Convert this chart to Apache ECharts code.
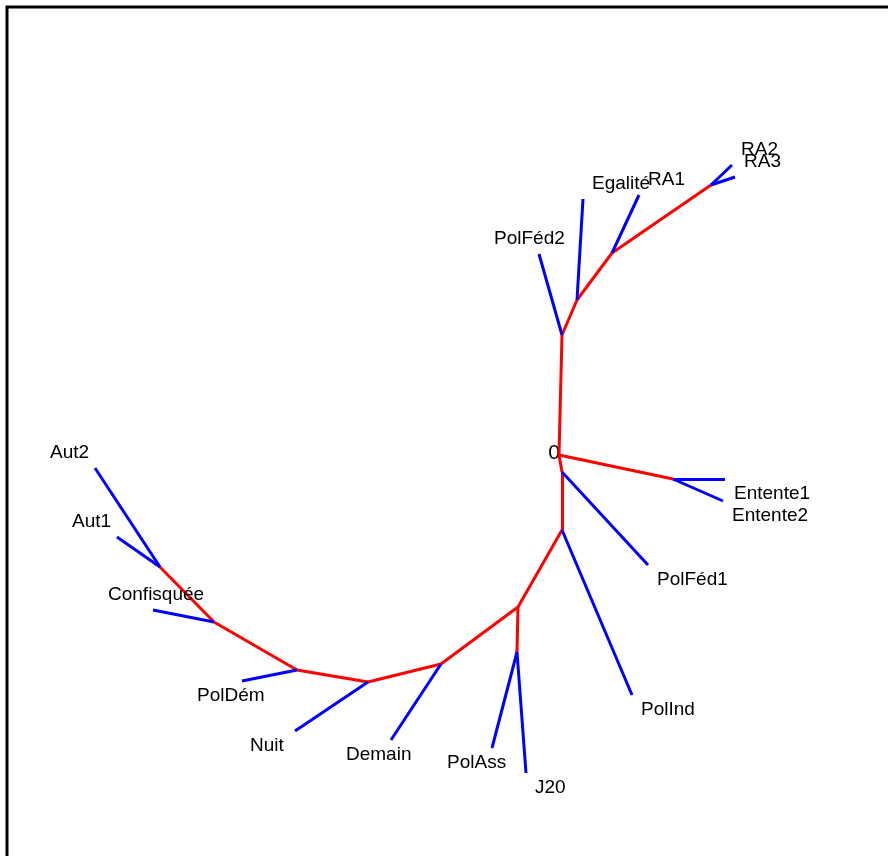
<!DOCTYPE html>
<html>
<head>
<meta charset="utf-8">
<script src="https://cdn.jsdelivr.net/npm/echarts@6/dist/echarts.min.js"></script>
<style>html,body{margin:0;padding:0;background:#fff}#c{width:888px;height:856px}</style>
</head>
<body>
<div id="c"></div>
<script>
// Node layout of the unrooted tree (data units, root "0" at origin)
const internalNames = ['0','A','B','C','D','M','N','I','H','J','G','F','E','K','L'];
const internalX = [0, 3, 18, 53, 152, 114, 3, 3, -41, -42, -118, -191, -262, -345, -399];
const internalY = [0, 120, 155, 202, 270, -24, -17, -75, -152, -197, -209, -227, -215, -167, -112];

// internal (red) edges: parent -> child
const internalParents = ['0','A','B','C','0','0','N','I','H','H','G','F','E','K'];
const internalChildren = ['A','B','C','D','M','N','I','H','J','G','F','E','K','L'];

// tips (blue edges)
const tipLabels = ['PolFéd2','Egalité','RA1','RA2','RA3','Entente1','Entente2','PolFéd1','PolInd','PolAss','J20','Demain','Nuit','PolDém','Confisquée','Aut1','Aut2'];
const tipX = [-20, 24, 80, 173, 176, 166, 164, 89, 73, -67, -33, -168, -264, -317, -406, -442, -464];
const tipY = [201, 256, 260, 290, 278, -24, -46, -110, -240, -293, -318, -285, -276, -226, -155, -82, -13];
const tipParents = ['A','B','C','D','D','M','M','N','I','J','J','G','F','E','K','L','L'];

const pos = {};
internalNames.forEach((n, i) => pos[n] = [internalX[i], internalY[i]]);

const redEdges = internalParents.map((p, i) => ({coords: [pos[p], pos[internalChildren[i]]]}));
const blueEdges = tipLabels.map((t, i) => ({coords: [pos[tipParents[i]], [tipX[i], tipY[i]]]}));

const FONT = 'Liberation Sans, Arial, sans-serif';
const tipPoints = tipLabels.map((t, i) => {
  const p = pos[tipParents[i]];
  const right = tipX[i] > p[0];
  const up = tipY[i] > p[1];
  return {
    value: [tipX[i], tipY[i]],
    name: t,
    label: {offset: [right ? 9 : -45, up ? -15 : 15]}
  };
});

const chart = echarts.init(document.getElementById('c'), null, {renderer: 'canvas'});
chart.setOption({
  animation: false,
  backgroundColor: '#fff',
  grid: {left: 0, right: 0, top: 0, bottom: 0},
  xAxis: {type: 'value', min: -559, max: 329, show: false},
  yAxis: {type: 'value', min: -401, max: 455, show: false},
  graphic: [{
    type: 'rect', left: 4.5, top: 4.5,
    shape: {width: 1000, height: 1000},
    style: {fill: 'none', stroke: '#000', lineWidth: 3}
  }],
  series: [
    {
      type: 'lines', coordinateSystem: 'cartesian2d', z: 2,
      lineStyle: {color: '#ff0000', width: 3, opacity: 1},
      data: redEdges
    },
    {
      type: 'lines', coordinateSystem: 'cartesian2d', z: 3,
      lineStyle: {color: '#0000ff', width: 3, opacity: 1},
      data: blueEdges
    },
    {
      type: 'scatter', z: 4, symbolSize: 0.1,
      itemStyle: {color: '#000', opacity: 1},
      data: tipPoints,
      label: {
        show: true, position: 'inside', formatter: '{b}',
        align: 'left', verticalAlign: 'middle',
        fontFamily: FONT, fontSize: 19, color: '#000', opacity: 1
      }
    },
    {
      type: 'scatter', z: 1, symbolSize: 0.1,
      itemStyle: {color: '#000', opacity: 1},
      data: [{value: pos['0'], name: '0'}],
      label: {
        show: true, position: 'inside', formatter: '{b}',
        align: 'center', verticalAlign: 'middle', offset: [-5, -2],
        fontFamily: FONT, fontSize: 21, color: '#000', opacity: 1
      }
    }
  ]
});
</script>
</body>
</html>
